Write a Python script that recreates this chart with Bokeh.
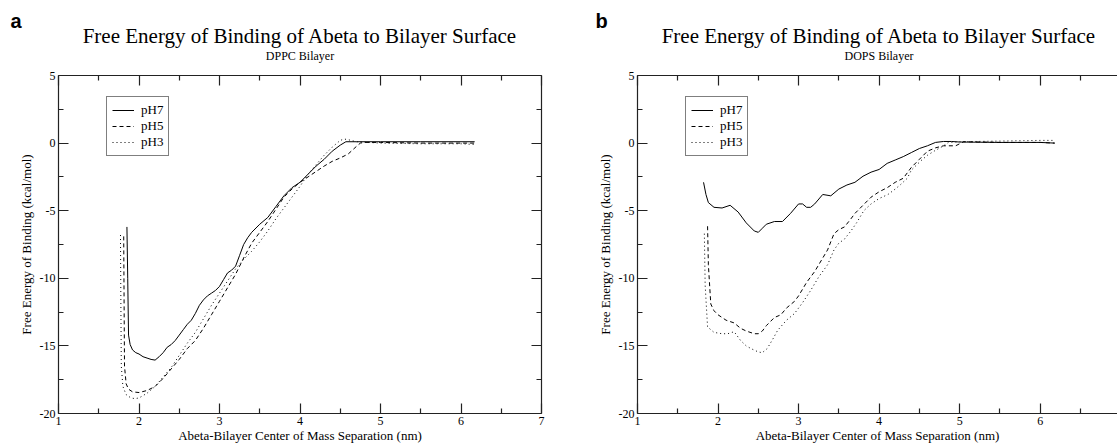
from bokeh.plotting import figure
from bokeh.models import (LinearAxis, Range1d, Legend, LegendItem, FixedTicker, Label,
                          CustomLabelingPolicy)
from bokeh.layouts import row, column
from bokeh.embed import file_html
from bokeh.resources import INLINE

# ---------------- data ----------------
TITLE = "Free Energy of Binding of Abeta to Bilayer Surface"
X_LABEL = "Abeta-Bilayer Center of Mass Separation (nm)"
Y_LABEL = "Free Energy of Binding (kcal/mol)"
SERIES = ["pH7", "pH5", "pH3"]
X_TICKS = [1, 2, 3, 4, 5, 6, 7]
Y_TICKS = [-20, -15, -10, -5, 0, 5]

# Panel a: DPPC bilayer
a_ph7_x = [1.85, 1.86, 1.87, 1.89, 1.92, 1.96, 2.0, 2.05, 2.1, 2.15, 2.2, 2.25, 2.3, 2.35, 2.4, 2.45, 2.5,
           2.55, 2.6, 2.65, 2.7, 2.75, 2.8, 2.85, 2.9, 2.95, 3.0, 3.05, 3.1, 3.15, 3.2, 3.25, 3.3, 3.35,
           3.4, 3.5, 3.6, 3.7, 3.8, 3.9, 4.0, 4.1, 4.2, 4.3, 4.4, 4.5, 4.57, 4.7, 5.0, 5.5, 6.0, 6.17]
a_ph7_y = [-6.2, -10.0, -14.2, -14.9, -15.3, -15.5, -15.6, -15.8, -15.9, -16.0, -16.05, -15.8, -15.5,
           -15.1, -14.9, -14.6, -14.2, -13.8, -13.4, -13.1, -12.6, -12.0, -11.6, -11.3, -11.1, -10.9,
           -10.6, -10.1, -9.6, -9.4, -9.1, -8.3, -7.5, -7.0, -6.6, -6.0, -5.5, -4.7, -3.9, -3.3, -2.9,
           -2.3, -1.7, -1.2, -0.6, -0.15, 0.1, 0.1, 0.1, 0.1, 0.1, 0.1]
a_ph5_x = [1.81, 1.815, 1.82, 1.84, 1.87, 1.92, 2.0, 2.1, 2.2, 2.3, 2.4, 2.5, 2.6, 2.7, 2.8, 2.9, 3.0,
           3.1, 3.2, 3.3, 3.4, 3.5, 3.6, 3.7, 3.8, 3.9, 4.0, 4.1, 4.2, 4.3, 4.4, 4.5, 4.6, 4.7, 4.75,
           4.8, 5.0, 5.5, 6.0, 6.17]
a_ph5_y = [-6.9, -12.0, -16.5, -17.8, -18.2, -18.4, -18.45, -18.3, -18.0, -17.4, -16.7, -16.0, -15.2,
           -14.6, -13.7, -12.7, -11.7, -10.7, -9.7, -8.5, -7.4, -6.6, -5.8, -4.9, -4.0, -3.4, -2.9,
           -2.5, -2.1, -1.7, -1.35, -1.1, -0.8, -0.25, 0.0, 0.05, 0.05, 0.0, 0.0, 0.0]
a_ph3_x = [1.77, 1.775, 1.78, 1.80, 1.84, 1.9, 1.95, 2.0, 2.1, 2.2, 2.3, 2.4, 2.5, 2.6, 2.7, 2.8, 2.9,
           3.0, 3.1, 3.2, 3.3, 3.4, 3.5, 3.6, 3.7, 3.8, 3.9, 4.0, 4.1, 4.2, 4.3, 4.4, 4.5, 4.55, 4.6,
           4.7, 5.0, 5.5, 6.0, 6.17]
a_ph3_y = [-6.8, -12.0, -16.5, -18.0, -18.6, -18.85, -18.9, -18.85, -18.5, -18.0, -17.3, -16.6, -15.7,
           -14.8, -14.0, -13.0, -12.0, -11.1, -10.2, -9.3, -8.6, -8.0, -7.3, -6.5, -5.6, -4.8, -4.0,
           -3.2, -2.3, -1.6, -0.9, -0.3, 0.2, 0.3, 0.25, 0.1, 0.0, -0.05, -0.05, -0.1]

# Panel b: DOPS bilayer
b_ph7_x = [1.82, 1.85, 1.88, 1.95, 2.05, 2.15, 2.25, 2.35, 2.45, 2.5, 2.55, 2.6, 2.7, 2.8, 2.9, 3.0,
           3.05, 3.1, 3.15, 3.2, 3.3, 3.4, 3.5, 3.6, 3.7, 3.8, 3.9, 4.0, 4.1, 4.2, 4.3, 4.4, 4.5, 4.6,
           4.7, 4.8, 4.9, 5.0, 5.5, 6.0, 6.18]
b_ph7_y = [-2.9, -3.8, -4.4, -4.75, -4.8, -4.6, -5.1, -5.9, -6.5, -6.6, -6.3, -6.0, -5.8, -5.8, -5.2,
           -4.5, -4.5, -4.75, -4.75, -4.5, -3.8, -3.9, -3.4, -3.1, -2.9, -2.45, -2.15, -1.95, -1.5,
           -1.25, -1.0, -0.7, -0.4, -0.2, 0.05, 0.12, 0.12, 0.08, 0.05, 0.05, 0.0]
b_ph5_x = [1.87, 1.88, 1.91, 1.95, 2.0, 2.1, 2.15, 2.2, 2.28, 2.35, 2.45, 2.5, 2.55, 2.6, 2.7, 2.78,
           2.85, 2.95, 3.0, 3.1, 3.2, 3.3, 3.36, 3.44, 3.5, 3.57, 3.65, 3.7, 3.8, 3.9, 4.0, 4.1, 4.2,
           4.3, 4.4, 4.5, 4.6, 4.7, 4.8, 4.95, 5.05, 5.5, 6.0, 6.18]
b_ph5_y = [-6.15, -9.0, -11.9, -12.4, -12.7, -13.1, -13.2, -13.3, -13.7, -13.9, -14.1, -14.1, -13.9,
           -13.5, -12.9, -12.7, -12.2, -11.7, -11.3, -10.3, -9.5, -8.5, -7.9, -6.7, -6.4, -6.2, -5.6,
           -5.2, -4.6, -4.0, -3.6, -3.3, -2.9, -2.6, -1.8, -1.2, -0.6, -0.35, -0.2, -0.2, 0.1, 0.05,
           0.05, 0.0]
b_ph3_x = [1.83, 1.84, 1.87, 1.95, 2.05, 2.12, 2.2, 2.28, 2.35, 2.41, 2.5, 2.55, 2.61, 2.68, 2.74,
           2.85, 2.95, 3.05, 3.15, 3.25, 3.36, 3.44, 3.5, 3.57, 3.65, 3.72, 3.81, 3.9, 4.0, 4.11, 4.2,
           4.27, 4.35, 4.4, 4.52, 4.6, 4.69, 4.8, 4.86, 5.0, 5.5, 6.0, 6.18]
b_ph3_y = [-6.7, -10.5, -13.6, -14.0, -14.1, -14.1, -13.95, -14.6, -15.0, -15.2, -15.45, -15.5, -15.2,
           -14.5, -13.85, -13.1, -12.6, -11.8, -10.9, -9.9, -9.0, -7.9, -7.4, -7.1, -6.5, -5.9, -5.0,
           -4.5, -4.1, -3.8, -3.4, -3.05, -2.6, -2.0, -1.3, -0.9, -0.57, -0.2, 0.05, 0.1, 0.15, 0.2,
           0.2]

# ---------------- styling / layout ----------------
SERIF = "Liberation Serif"
SANS = "Liberation Sans"
AX = "#222222"
DASHES = {"pH7": "solid", "pH5": "4 3", "pH3": "1 3"}
TOTAL_H = 445
HEAD_H = 66
BORDER_TOP = 9
BORDER_BOTTOM = 32
PANEL_H = TOTAL_H - HEAD_H
FRAME_H = PANEL_H - BORDER_TOP - BORDER_BOTTOM

x_ticker = FixedTicker(ticks=X_TICKS, minor_ticks=[1.5, 2.5, 3.5, 4.5, 5.5, 6.5])
y_ticker = FixedTicker(ticks=Y_TICKS, minor_ticks=[-17.5, -12.5, -7.5, -2.5, 2.5])

NO_LABELS = CustomLabelingPolicy(code="""
    const all = [...indices]
    for (const i of all) indices.unset(i)
    return indices
""")


def no_frame_align(plot):
    if "frame_align" in plot.properties():
        plot.frame_align = False


def style_axis(ax, labels=True):
    ax.major_tick_in = 10
    ax.major_tick_out = 0
    ax.minor_tick_in = 5
    ax.minor_tick_out = 0
    ax.axis_line_color = AX
    ax.axis_line_width = 1.2
    ax.major_tick_line_color = AX
    ax.major_tick_line_width = 1.2
    ax.minor_tick_line_color = AX
    ax.minor_tick_line_width = 1.2
    if labels:
        ax.major_label_text_font = SERIF
        ax.major_label_text_font_size = "12px"
        ax.major_label_text_color = "black"
        ax.major_label_standoff = 3
        ax.axis_label_text_font = SERIF
        ax.axis_label_text_font_style = "normal"
        ax.axis_label_text_font_size = "13px"
        ax.axis_label_text_color = "black"
    else:
        ax.major_label_policy = NO_LABELS
        ax.major_label_text_font_size = "0px"
        ax.major_label_standoff = 0


def make_header(letter, letter_x, subtitle, width, frame_left, frame_w):
    h = figure(width=width, height=HEAD_H, output_backend="svg", toolbar_location=None,
               x_range=Range1d(0, width), y_range=Range1d(HEAD_H, 0), title_location=None,
               x_axis_location=None, y_axis_location=None, min_border=0)
    no_frame_align(h)
    h.grid.visible = False
    h.outline_line_color = None
    h.border_fill_color = "white"
    cx = frame_left + frame_w / 2
    h.add_layout(Label(x=letter_x, y=20, text=letter, text_font=SANS, text_font_style="bold",
                       text_font_size="20px", text_color="black", text_baseline="alphabetic"))
    h.add_layout(Label(x=cx, y=35, text=TITLE, text_font=SERIF, text_font_size="21px",
                       text_color="black", text_align="center", text_baseline="alphabetic"))
    h.add_layout(Label(x=cx, y=55, text=subtitle, text_font=SERIF, text_font_size="12px",
                       text_color="black", text_align="center", text_baseline="alphabetic"))
    return h


def make_panel(series, width, border_left, border_right, xmax, right_axis):
    p = figure(width=width, height=PANEL_H, output_backend="svg", toolbar_location=None,
               x_range=Range1d(1, xmax), y_range=Range1d(-20, 5), title_location=None,
               min_border_left=border_left, min_border_right=border_right,
               min_border_top=BORDER_TOP, min_border_bottom=BORDER_BOTTOM)
    no_frame_align(p)
    p.grid.visible = False
    p.outline_line_color = None
    p.background_fill_color = "white"
    p.border_fill_color = "white"

    xa = p.xaxis[0]
    ya = p.yaxis[0]
    xa.ticker = x_ticker
    ya.ticker = y_ticker
    style_axis(xa)
    style_axis(ya)
    ya.major_label_overrides = {t: str(t) for t in Y_TICKS}
    xa.axis_label = X_LABEL
    xa.axis_label_standoff = 0
    ya.axis_label = Y_LABEL
    ya.axis_label_standoff = 3

    top = LinearAxis(ticker=x_ticker)
    style_axis(top, labels=False)
    p.add_layout(top, "above")
    if right_axis:
        right = LinearAxis(ticker=y_ticker)
        style_axis(right, labels=False)
        p.add_layout(right, "right")

    items = []
    for name, (xs, ys) in zip(SERIES, series):
        r = p.line(xs, ys, line_color="black", line_width=1, line_dash=DASHES[name])
        items.append(LegendItem(label=name, renderers=[r]))
    leg = Legend(items=items, location=(48, FRAME_H - 81), border_line_color="black",
                 border_line_width=1, padding=5, spacing=0, margin=0, label_height=16,
                 glyph_height=16, glyph_width=22, label_standoff=7, label_text_font=SERIF,
                 label_text_font_size="13px", label_text_color="black",
                 background_fill_color="white", background_fill_alpha=1)
    p.add_layout(leg, "center")
    return p


A_W, A_LEFT, A_RIGHT = 560, 58, 19
B_W, B_LEFT, B_RIGHT = 557, 77, 0
REF_FRAME_W = 483

ha = make_header("a", 10, "DPPC Bilayer", A_W, A_LEFT, REF_FRAME_W)
pa = make_panel([(a_ph7_x, a_ph7_y), (a_ph5_x, a_ph5_y), (a_ph3_x, a_ph3_y)],
                A_W, A_LEFT, A_RIGHT, 7, True)
hb = make_header("b", 35, "DOPS Bilayer", B_W, B_LEFT, REF_FRAME_W)
pb = make_panel([(b_ph7_x, b_ph7_y), (b_ph5_x, b_ph5_y), (b_ph3_x, b_ph3_y)],
                B_W, B_LEFT, B_RIGHT, 6.96, False)

layout = row(column(ha, pa), column(hb, pb))
open("out.html", "w").write(file_html(layout, INLINE))
